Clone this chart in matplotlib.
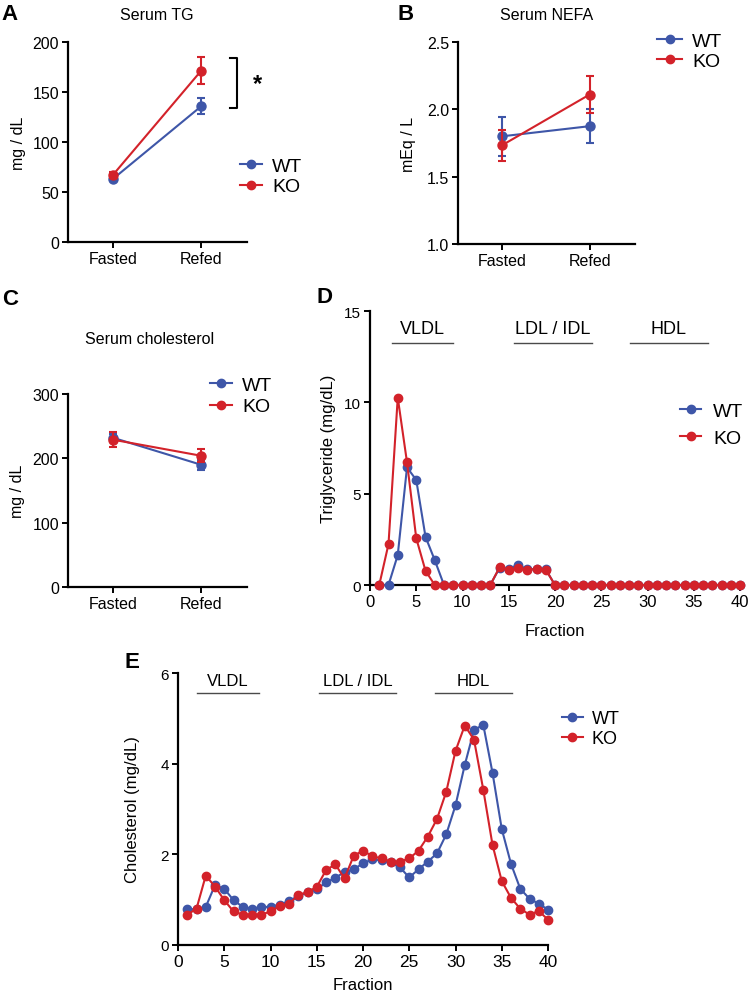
import matplotlib
matplotlib.use('Agg')
import matplotlib.pyplot as plt
from matplotlib.lines import Line2D

plt.rcParams['font.family'] = ['Liberation Sans', 'DejaVu Sans']

BLUE = '#3E56A8'
RED = '#D3222A'

# ---------------- data ----------------
groups = ['Fasted', 'Refed']
tg_wt = [63, 135.5]
tg_wt_err = [2, 8]
tg_ko = [67, 171]
tg_ko_err = [3, 13.5]

nefa_wt = [1.80, 1.875]
nefa_wt_err = [0.145, 0.125]
nefa_ko = [1.735, 2.11]
nefa_ko_err = [0.115, 0.14]

chol_wt = [232, 190]
chol_wt_err = [6, 8]
chol_ko = [229, 204]
chol_ko_err = [12, 10]

fractions = [1, 2, 3, 4, 5, 6, 7, 8, 9, 10, 11, 12, 13, 14, 15, 16, 17, 18, 19, 20,
             21, 22, 23, 24, 25, 26, 27, 28, 29, 30, 31, 32, 33, 34, 35, 36, 37, 38, 39, 40]
tg_frac_wt = [0, 0, 1.64, 6.44, 5.75, 2.64, 1.36, 0, 0, 0, 0, 0, 0, 0.93, 0.88, 1.11, 0.85, 0.88, 0.85, 0,
              0, 0, 0, 0, 0, 0, 0, 0, 0, 0, 0, 0, 0, 0, 0, 0, 0, 0, 0, 0]
tg_frac_ko = [0, 2.24, 10.26, 6.72, 2.56, 0.78, 0, 0, 0, 0, 0, 0, 0, 0.96, 0.84, 0.91, 0.84, 0.87, 0.84, 0,
              0, 0, 0, 0, 0, 0, 0, 0, 0, 0, 0, 0, 0, 0, 0, 0, 0, 0, 0, 0]
chol_frac_wt = [0.79, 0.79, 0.84, 1.32, 1.24, 0.99, 0.84, 0.80, 0.84, 0.84, 0.89, 0.97, 1.08, 1.16, 1.23, 1.38,
                1.48, 1.61, 1.67, 1.80, 1.89, 1.87, 1.82, 1.71, 1.49, 1.67, 1.84, 2.02, 2.44, 3.08, 3.97, 4.74,
                4.86, 3.80, 2.56, 1.79, 1.24, 1.02, 0.91, 0.78]
chol_frac_ko = [0.67, 0.80, 1.53, 1.29, 0.99, 0.74, 0.67, 0.67, 0.67, 0.74, 0.86, 0.91, 1.10, 1.17, 1.28, 1.65,
                1.78, 1.47, 1.97, 2.08, 1.96, 1.91, 1.84, 1.84, 1.91, 2.08, 2.39, 2.78, 3.38, 4.28, 4.84, 4.53,
                3.43, 2.21, 1.41, 1.04, 0.80, 0.67, 0.75, 0.56]

region_names = ['VLDL', 'LDL / IDL', 'HDL']
tg_region_spans = [(2.4, 9.0), (15.6, 24.0), (28.1, 36.5)]
chol_region_spans = [(2.1, 8.75), (15.2, 23.6), (27.8, 36.1)]

# ---------------- figure ----------------
W, H = 750, 995
fig = plt.figure(figsize=(W / 100, H / 100), dpi=100)


def add_ax(x0, x1, ytop, ybot):
    return fig.add_axes([x0 / W, 1 - ybot / H, (x1 - x0) / W, (ybot - ytop) / H])


def style(ax, tick_fs=11.5):
    for s in ['top', 'right']:
        ax.spines[s].set_visible(False)
    for s in ['left', 'bottom']:
        ax.spines[s].set_linewidth(1.6)
    ax.tick_params(width=1.4, length=4.5, labelsize=tick_fs, direction='out', pad=2)


def ftext(px, py, s, **kw):
    fig.text(px / W, 1 - py / H, s, **kw)


def legend(ax, hx, ytop, spacing, fs=14, hl=1.15, pad=0.5):
    handles = [Line2D([], [], color=BLUE, marker='o', ms=6, lw=1.5),
               Line2D([], [], color=RED, marker='o', ms=6, lw=1.5)]
    ax.legend(handles, ['WT', 'KO'], loc='upper left', bbox_to_anchor=(hx / W, 1 - ytop / H),
              bbox_transform=fig.transFigure, frameon=False, fontsize=fs, handlelength=hl,
              handletextpad=pad, borderpad=0, borderaxespad=0, labelspacing=spacing)


def group_plot(ax, wt, wterr, ko, koerr):
    x = [0, 1]
    ax.errorbar(x, wt, yerr=wterr, color=BLUE, marker='o', ms=6.5, lw=1.5, capsize=3, capthick=1.5,
                elinewidth=1.5, clip_on=False, zorder=3)
    ax.errorbar(x, ko, yerr=koerr, color=RED, marker='o', ms=6.5, lw=1.5, capsize=3, capthick=1.5,
                elinewidth=1.5, clip_on=False, zorder=4)
    ax.set_xlim(-0.51, 1.52)
    ax.set_xticks(x)
    ax.set_xticklabels(groups)


# ---- A ----
axA = add_ax(68, 247, 42.7, 243)
style(axA)
group_plot(axA, tg_wt, tg_wt_err, tg_ko, tg_ko_err)
axA.set_ylim(0, 200)
axA.set_yticks([0, 50, 100, 150, 200])
axA.set_ylabel('mg / dL', fontsize=11.5)
axA.yaxis.set_label_coords(-0.235, 0.5)
axA.plot([1.33, 1.41, 1.41, 1.33], [184, 184, 134, 134], color='black', lw=1.5, clip_on=False)
axA.text(1.64, 158, '*', fontsize=17, ha='center', va='center', fontweight='bold')
legend(axA, 240, 158, 0.165)
ftext(157, 15, 'Serum TG', ha='center', va='center', fontsize=11.5)
ftext(10, 14, 'A', ha='center', va='center', fontsize=16, fontweight='bold')

# ---- B ----
axB = add_ax(458, 635, 43, 245)
style(axB)
group_plot(axB, nefa_wt, nefa_wt_err, nefa_ko, nefa_ko_err)
axB.set_ylim(1.0, 2.5)
axB.set_yticks([1.0, 1.5, 2.0, 2.5])
axB.set_yticklabels(['1.0', '1.5', '2.0', '2.5'])
axB.set_ylabel('mEq / L', fontsize=11.5)
axB.yaxis.set_label_coords(-0.237, 0.5)
legend(axB, 657, 33.5, 0.12, hl=1.3)
ftext(547, 15, 'Serum NEFA', ha='center', va='center', fontsize=11.5)
ftext(406, 14, 'B', ha='center', va='center', fontsize=16, fontweight='bold')

# ---- C ----
axC = add_ax(68, 247, 395, 588)
style(axC)
group_plot(axC, chol_wt, chol_wt_err, chol_ko, chol_ko_err)
axC.set_ylim(0, 300)
axC.set_yticks([0, 100, 200, 300])
axC.set_ylabel('mg / dL', fontsize=11.5)
axC.yaxis.set_label_coords(-0.24, 0.5)
legend(axC, 210, 377, 0.22)
ftext(150, 340, 'Serum cholesterol', ha='center', va='center', fontsize=11.5)
ftext(10, 300, 'C', ha='center', va='center', fontsize=16, fontweight='bold')


def frac_plot(ax, wt, ko, spans, yline, ytext, fs):
    ax.plot(fractions, wt, color=BLUE, marker='o', ms=6, lw=1.5, clip_on=False, zorder=3)
    ax.plot(fractions, ko, color=RED, marker='o', ms=6, lw=1.5, clip_on=False, zorder=4)
    ax.set_xlim(0, 40)
    ax.set_xticks([0, 5, 10, 15, 20, 25, 30, 35, 40])
    for name, (a, b) in zip(region_names, spans):
        ax.plot([a, b], [yline, yline], color='#4a4a4a', lw=1.0, clip_on=False)
        ax.text((a + b) / 2, ytext, name, ha='center', va='center', fontsize=fs)


# ---- D ----
axD = add_ax(370, 740, 312, 586)
style(axD, 11)
axD.tick_params(axis='x', labelsize=12)
frac_plot(axD, tg_frac_wt, tg_frac_ko, tg_region_spans, 13.25, 14.05, 13)
axD.set_ylim(0, 15)
axD.set_yticks([0, 5, 10, 15])
axD.set_ylabel('Triglyceride (mg/dL)', fontsize=12)
axD.yaxis.set_label_coords(-0.093, 0.5)
axD.set_xlabel('Fraction', fontsize=12, labelpad=10)
legend(axD, 680, 403, 0.5, hl=1.1, pad=0.6)
ftext(325, 298, 'D', ha='center', va='center', fontsize=16, fontweight='bold')

# ---- E ----
axE = add_ax(178, 548, 674, 946)
style(axE, 11)
frac_plot(axE, chol_frac_wt, chol_frac_ko, chol_region_spans, 5.55, 5.83, 12)
axE.set_ylim(0, 6)
axE.set_yticks([0, 2, 4, 6])
axE.set_ylabel('Cholesterol (mg/dL)', fontsize=12)
axE.yaxis.set_label_coords(-0.103, 0.5)
axE.tick_params(axis='x', labelsize=12.5)
axE.set_xlabel('Fraction', fontsize=12, labelpad=6)
legend(axE, 562, 711, 0.16, fs=13)
ftext(132, 662, 'E', ha='center', va='center', fontsize=16, fontweight='bold')

fig.savefig('out.png', dpi=100)
